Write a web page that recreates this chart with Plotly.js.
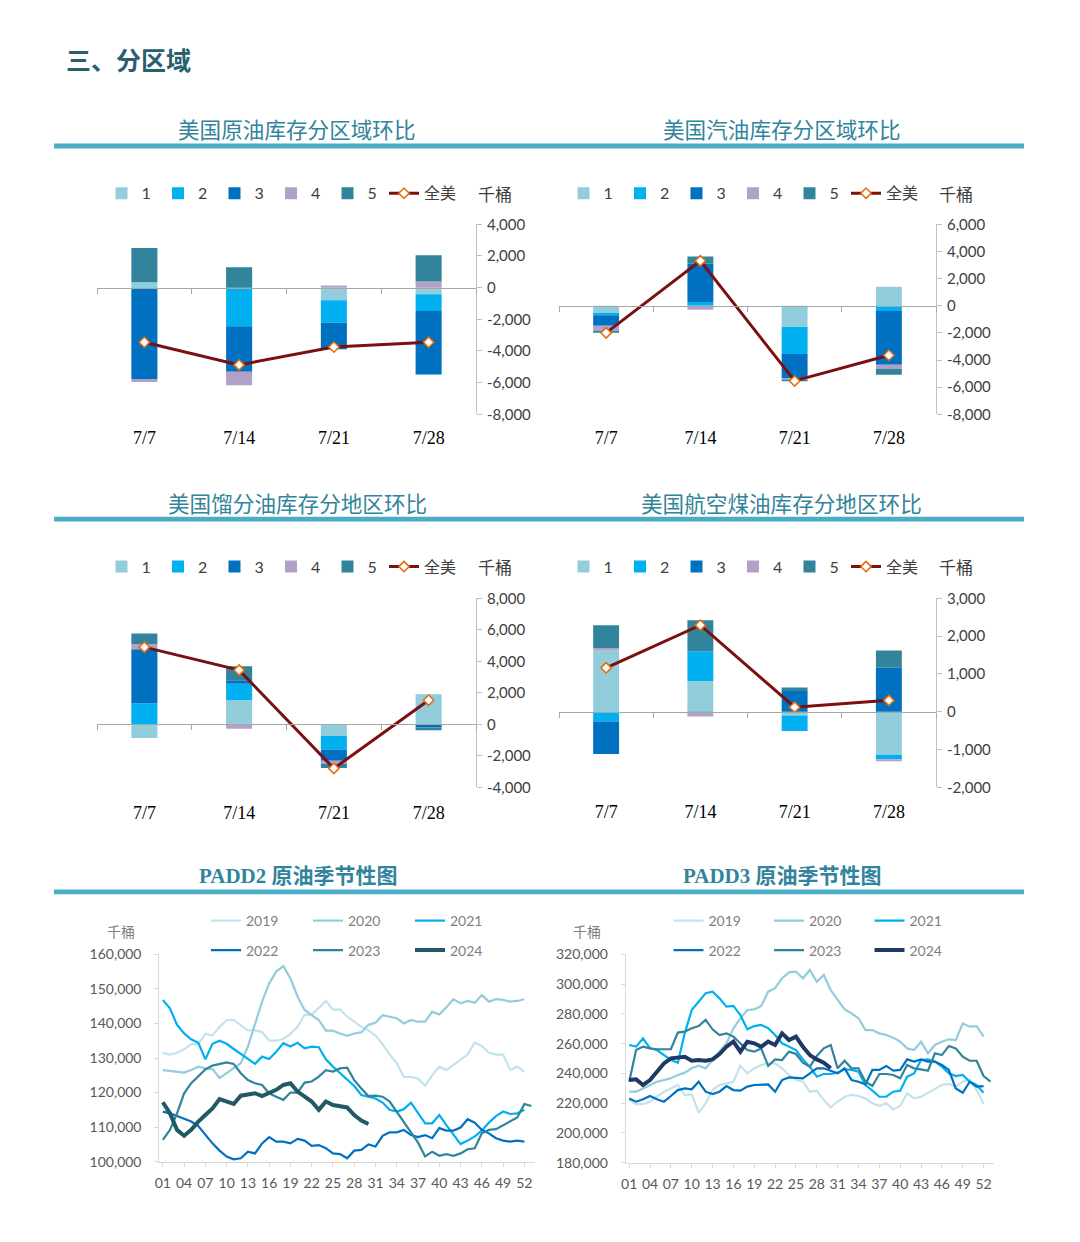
<!DOCTYPE html>
<html>
<head>
<meta charset="utf-8">
<script src="https://cdn.plot.ly/plotly-3.0.1.min.js"></script>
<style>
html,body{margin:0;padding:0;background:#ffffff;}
#chart{width:1080px;height:1242px;}
</style>
</head>
<body>
<div id="chart"></div>
<script>
// ---------------- DATA ----------------
const dates = ['7/7', '7/14', '7/21', '7/28'];
const regionNames = ['1', '2', '3', '4', '5'];
const totalName = '全美';
const unitLabel = '千桶';

// 美国原油库存分区域环比 (千桶)
const crudeR1 = [340, 0, -800, -420];
const crudeR2 = [-50, -2440, -1410, -1050];
const crudeR3 = [-5720, -2880, -1680, -4020];
const crudeR4 = [-190, -840, 130, 380];
const crudeR5 = [2170, 1280, 0, 1660];
const crudeTotal = [-3450, -4880, -3750, -3450];

// 美国汽油库存分区域环比
const gasR1 = [-540, 0, -1570, 1400];
const gasR2 = [-170, 270, -1990, -390];
const gasR3 = [-760, 2820, -1760, -3950];
const gasR4 = [-370, -290, -120, -320];
const gasR5 = [-150, 540, -120, -420];
const gasTotal = [-2000, 3310, -5540, -3650];

// 美国馏分油库存分地区环比
const distR1 = [-870, 1550, -740, 1910];
const distR2 = [1340, 1020, -870, 0];
const distR3 = [3420, 230, -700, -200];
const distR4 = [340, -280, -190, 0];
const distR5 = [660, 890, -280, -180];
const distTotal = [4900, 3440, -2800, 1530];

// 美国航空煤油库存分地区环比
const jetR1 = [1620, 810, -100, -1140];
const jetR2 = [-260, 790, -410, -120];
const jetR3 = [-860, -35, 550, 1160];
const jetR4 = [60, -90, 0, -50];
const jetR5 = [610, 820, 90, 460];
const jetTotal = [1160, 2290, 120, 300];

// bar-chart y tick values / labels
const crudeTickVals = [4000, 2000, 0, -2000, -4000, -6000, -8000];
const crudeTickText = ['4,000', '2,000', '0', '-2,000', '-4,000', '-6,000', '-8,000'];
const gasTickVals = [6000, 4000, 2000, 0, -2000, -4000, -6000, -8000];
const gasTickText = ['6,000', '4,000', '2,000', '0', '-2,000', '-4,000', '-6,000', '-8,000'];
const distTickVals = [8000, 6000, 4000, 2000, 0, -2000, -4000];
const distTickText = ['8,000', '6,000', '4,000', '2,000', '0', '-2,000', '-4,000'];
const jetTickVals = [3000, 2000, 1000, 0, -1000, -2000];
const jetTickText = ['3,000', '2,000', '1,000', '0', '-1,000', '-2,000'];

// seasonal charts: weeks and tick labels
const weeks = [1,2,3,4,5,6,7,8,9,10,11,12,13,14,15,16,17,18,19,20,21,22,23,24,25,26,27,28,29,30,31,32,33,34,35,36,37,38,39,40,41,42,43,44,45,46,47,48,49,50,51,52,53];
const weekTickVals = [1,4,7,10,13,16,19,22,25,28,31,34,37,40,43,46,49,52];
const weekTickText = ['01','04','07','10','13','16','19','22','25','28','31','34','37','40','43','46','49','52'];
const yearNames = ['2019', '2020', '2021', '2022', '2023', '2024'];

// PADD2 原油 (千桶)
const p2y2019 = [131500,131000,131500,132500,134000,134000,137000,136500,139000,141000,141000,139500,138000,138000,137500,135000,135000,135500,137000,139000,142500,142500,144500,146500,144000,144000,142000,140500,139000,138000,136500,134000,131000,128500,124500,124500,124000,122000,125000,127500,126500,128000,129500,131000,134500,133500,131500,131000,131000,126500,127500,126000];
const p2y2020 = [126500,126300,126000,125800,126500,127500,127000,126800,124200,125600,127000,128500,133300,140000,146300,151600,155000,156600,153000,147800,143900,142400,141000,137900,137900,137100,136400,137100,137400,139600,140200,142400,142000,141500,140000,141000,140500,140500,143400,142600,144700,147000,145800,146500,146000,148200,146300,147000,146800,146300,146500,147000];
const p2y2021 = [146800,144400,139600,137100,135400,134400,129600,134100,135000,134100,132600,131200,129600,128300,130400,129700,131800,134300,133300,134400,132800,133300,133100,129600,127500,125600,123600,121900,119300,118800,118300,117100,115000,114500,115200,117100,114000,111100,111100,113500,110600,107700,105100,106100,107300,109000,111300,113200,114500,113800,114000,115000];
const p2y2022 = [114500,114000,113200,112400,111600,110300,107700,105300,103200,101500,100700,101000,102900,102400,105300,107100,105800,105800,105300,106600,106100,104600,104800,103900,102400,102200,101000,103200,103400,105000,104400,107500,108500,108500,109200,107700,107100,107700,106800,109700,109000,109000,109900,112300,111300,109200,108200,106800,106100,105800,106100,105800];
const p2y2023 = [106300,109200,114000,119800,122700,124600,126700,127800,128200,128700,128300,125600,123600,122700,122200,119800,118800,117900,120000,120000,122900,123200,124600,126500,126100,127000,127200,123600,121200,119000,119100,118800,117400,114500,111600,108700,105500,101500,102900,101700,102200,101700,102400,103600,103900,108200,109200,109400,110600,111600,112800,116700,116100];
const p2y2024 = [117200,114000,109200,107500,109200,111600,113500,115400,118100,117400,116700,119100,119400,119800,119000,119800,120800,122200,122700,120300,118800,117400,115000,117400,116400,116100,115700,113500,111900,110900];

// PADD3 原油 (千桶)
const p3y2019 = [222100,219400,219400,221000,224300,227700,229900,232200,225500,225900,213600,219900,228800,232200,233300,234400,245200,240000,243400,245600,246700,246700,243400,238900,235500,234400,227700,228400,222100,217200,221000,224300,225500,224800,223200,219900,218100,219900,215800,218100,226600,223200,224300,227000,229900,232200,232900,231100,234400,236000,228800,219400];
const p3y2020 = [227700,227700,229900,232200,234400,235500,236700,238900,240500,243400,245200,243400,249000,254600,260200,270300,277000,282600,283000,285300,294900,297200,303900,307900,308400,303900,309500,301600,306100,296000,289300,283000,280300,277000,269100,269100,266900,265800,264000,261300,256800,255700,261300,253500,259100,261300,262900,262400,273600,271400,271800,264700];
const p3y2021 = [259100,258000,263600,256800,255700,252300,249000,247200,266900,282600,288200,293800,294900,290400,284800,285300,279200,269600,271800,272500,270300,265800,260200,258000,255700,249400,244500,237800,239600,239600,240500,242700,242300,241100,232200,228400,224300,224300,227700,228400,237800,240000,249000,249400,247900,244500,240000,238200,238900,234400,232200,227000];
const p3y2022 = [223200,221000,222600,224800,222600,221000,224800,228800,229900,229300,234400,227700,226100,227700,231500,228800,228400,231100,232200,232200,232600,227700,235500,237300,237100,236700,240000,243400,243400,241800,240000,243400,235500,234400,232600,242300,242300,245000,241800,242300,249400,247900,249400,247900,247900,245600,242300,229900,227000,234400,231100,231500];
const p3y2023 = [234400,255700,258000,256800,256200,256200,256200,267400,268000,270300,271800,275900,269600,265800,266900,264700,260200,255700,254600,256800,245000,249400,249000,254600,253000,247200,244500,251700,256800,259100,243400,248500,243400,243400,234400,231500,239600,239600,238900,236700,245600,243400,242700,241800,253500,252300,258400,256800,251200,248500,248500,238200,234400];
const p3y2024 = [235500,236000,232200,235500,241100,246700,250100,250800,251200,248500,249000,248500,249400,253000,257900,261300,254600,261300,260200,257900,261300,259100,266900,262400,264700,257900,252300,249400,247200,243400];

// ---------------- STYLE / LAYOUT HELPERS ----------------
const W = 1080, H = 1242;
const fx = v => v / W;
const fy = v => 1 - v / H;

const regionColors = ['#92CDDC', '#00B0F0', '#0070C0', '#B2A1C7', '#31849B'];
const totalColor = '#7B1010';
const yearColorsP2 = ['#C2E3EC', '#92CDDC', '#00B0F0', '#0070C0', '#31849B', '#215967'];
const yearColorsP3 = ['#C2E3EC', '#92CDDC', '#00B0F0', '#0070C0', '#31849B', '#1F3864'];

const cjk = '"Noto Sans CJK SC", sans-serif';
const sansNum = 'Lato, "Noto Sans CJK SC", sans-serif';

// panel geometry (page pixels)
const barPanels = [
  {left: 97,  right: 476, top: 224.3, bottom: 414.3, lo: -8000, hi: 4000, labelY: 441, legX: 101.5, legY: 193.3, unitX: 494.5,
   regions: [crudeR1, crudeR2, crudeR3, crudeR4, crudeR5], total: crudeTotal, tv: crudeTickVals, tt: crudeTickText},
  {left: 559, right: 936, top: 224.3, bottom: 414.3, lo: -8000, hi: 6000, labelY: 441, legX: 563.5, legY: 193.3, unitX: 956,
   regions: [gasR1, gasR2, gasR3, gasR4, gasR5], total: gasTotal, tv: gasTickVals, tt: gasTickText},
  {left: 97,  right: 476, top: 598.3, bottom: 787.3, lo: -4000, hi: 8000, labelY: 815, legX: 101.5, legY: 566.7, unitX: 494.5,
   regions: [distR1, distR2, distR3, distR4, distR5], total: distTotal, tv: distTickVals, tt: distTickText},
  {left: 559, right: 936, top: 598.3, bottom: 787.3, lo: -2000, hi: 3000, labelY: 815, legX: 563.5, legY: 566.7, unitX: 956,
   regions: [jetR1, jetR2, jetR3, jetR4, jetR5], total: jetTotal, tv: jetTickVals, tt: jetTickText}
];

const traces = [];
const layout = {
  width: W, height: H,
  margin: {l: 0, r: 0, t: 0, b: 0, pad: 0},
  paper_bgcolor: '#ffffff',
  plot_bgcolor: 'rgba(0,0,0,0)',
  barmode: 'relative',
  bargap: 0.725,
  showlegend: true,
  hovermode: false,
  annotations: [],
  shapes: []
};

barPanels.forEach((p, i) => {
  const n = i + 1;
  const xa = 'x' + n, ya = 'y' + n;
  const legId = n === 1 ? 'legend' : 'legend' + n;
  p.regions.forEach((vals, r) => {
    traces.push({
      type: 'bar', x: dates, y: vals, name: regionNames[r],
      xaxis: xa, yaxis: ya, legend: legId,
      marker: {color: regionColors[r], line: {width: 0}},
      legendwidth: 11.5
    });
  });
  traces.push({
    type: 'scatter', mode: 'lines+markers', x: dates, y: p.total, name: totalName,
    xaxis: xa, yaxis: ya, legend: legId,
    line: {color: totalColor, width: 3},
    marker: {symbol: 'diamond', size: 8, color: '#ffffff', line: {color: '#E46C0A', width: 1.5}},
    legendwidth: 40
  });
  const d0 = fy(p.bottom), d1 = fy(p.top);
  const zeroFrac = d0 + (0 - p.lo) / (p.hi - p.lo) * (d1 - d0);
  const zeroPx = p.top + (p.hi - 0) / (p.hi - p.lo) * (p.bottom - p.top);
  layout['xaxis' + n] = {
    domain: [fx(p.left), fx(p.right)], anchor: 'free', position: zeroFrac,
    type: 'category', range: [-0.5, 3.5],
    showline: true, linecolor: '#A6A6A6', linewidth: 1,
    ticks: 'outside', tickson: 'boundaries', ticklen: 5, tickcolor: '#A6A6A6', tickwidth: 1,
    tickfont: {family: '"Liberation Serif", "Times New Roman", serif', size: 18, color: '#000000'},
    ticklabelstandoff: Math.round(p.labelY - zeroPx - 19),
    showgrid: false, zeroline: false, fixedrange: true
  };
  layout['yaxis' + n] = {
    domain: [d0, d1], anchor: xa, side: 'right', range: [p.lo, p.hi],
    tickmode: 'array', tickvals: p.tv, ticktext: p.tt,
    showline: true, linecolor: '#BFBFBF', linewidth: 1,
    ticks: 'outside', ticklen: 5, tickcolor: '#BFBFBF',
    tickfont: {family: sansNum, size: 15, color: '#404040'},
    ticklabelstandoff: 2,
    showgrid: false, zeroline: false, fixedrange: true
  };
  layout[legId] = {
    x: fx(p.legX), y: fy(p.legY), xanchor: 'left', yanchor: 'middle',
    orientation: 'h', entrywidth: 11.5, entrywidthmode: 'pixels',
    font: {family: sansNum, size: 16, color: '#404040'},
    bgcolor: 'rgba(0,0,0,0)', borderwidth: 0, traceorder: 'normal'
  };
  layout.annotations.push({
    xref: 'paper', yref: 'paper', x: fx(p.unitX), y: fy(p.legY), xanchor: 'center', yanchor: 'middle',
    text: unitLabel, showarrow: false, font: {family: cjk, size: 17, color: '#404040'}
  });
});

// seasonal panels
const seasonPanels = [
  {n: 5, left: 159.3, right: 535, top: 954.3, bottom: 1161.7, lo: 100000, hi: 160000, dtick: 10000,
   series: [p2y2019, p2y2020, p2y2021, p2y2022, p2y2023, p2y2024], colors: yearColorsP2,
   legX: 206, legY1: 921, legY2: 950.5, ew: 57, unitX: 121, legA: 'legend5', legB: 'legend6'},
  {n: 6, left: 625.7, right: 994, top: 954.3, bottom: 1162.7, lo: 180000, hi: 320000, dtick: 20000,
   series: [p3y2019, p3y2020, p3y2021, p3y2022, p3y2023, p3y2024], colors: yearColorsP3,
   legX: 668.5, legY1: 921, legY2: 950.5, ew: 55.5, unitX: 587, legA: 'legend7', legB: 'legend8'}
];

seasonPanels.forEach(p => {
  const xa = 'x' + p.n, ya = 'y' + p.n;
  p.series.forEach((vals, k) => {
    traces.push({
      type: 'scatter', mode: 'lines', x: weeks.slice(0, vals.length), y: vals, name: yearNames[k],
      xaxis: xa, yaxis: ya, legend: k < 3 ? p.legA : p.legB,
      line: {color: p.colors[k], width: k === 5 ? 4 : 2.2},
      legendwidth: p.ew
    });
  });
  layout['xaxis' + p.n] = {
    domain: [fx(p.left), fx(p.right)], anchor: ya, range: [0.5, 53.5],
    tickmode: 'array', tickvals: weekTickVals, ticktext: weekTickText,
    showline: true, linecolor: '#D9D9D9', linewidth: 1,
    ticks: 'outside', ticklen: 4, tickcolor: '#D9D9D9',
    tickfont: {family: sansNum, size: 14, color: '#595959'},
    ticklabelstandoff: 4,
    showgrid: false, zeroline: false, fixedrange: true
  };
  layout['yaxis' + p.n] = {
    domain: [fy(p.bottom), fy(p.top)], anchor: xa, range: [p.lo, p.hi], dtick: p.dtick,
    tickformat: ',d',
    showline: true, linecolor: '#D9D9D9', linewidth: 1,
    ticks: 'outside', ticklen: 4, tickcolor: '#D9D9D9',
    tickfont: {family: sansNum, size: 14, color: '#595959'},
    ticklabelstandoff: 10,
    showgrid: false, zeroline: false, fixedrange: true
  };
  [[p.legA, p.legY1], [p.legB, p.legY2]].forEach(([id, yy]) => {
    layout[id] = {
      x: fx(p.legX), y: fy(yy), xanchor: 'left', yanchor: 'middle',
      orientation: 'h', entrywidth: p.ew, entrywidthmode: 'pixels',
      font: {family: sansNum, size: 14, color: '#7F7F7F'},
      bgcolor: 'rgba(0,0,0,0)', borderwidth: 0, traceorder: 'normal'
    };
  });
  layout.annotations.push({
    xref: 'paper', yref: 'paper', x: fx(p.unitX), y: fy(931), xanchor: 'center', yanchor: 'middle',
    text: unitLabel, showarrow: false, font: {family: cjk, size: 14, color: '#7F7F7F'}
  });
});

// header and section titles
layout.annotations.push({
  xref: 'paper', yref: 'paper', x: fx(64), y: fy(59), xanchor: 'left', yanchor: 'middle',
  text: '三、分区域', showarrow: false,
  font: {family: cjk, size: 25, color: '#2A5F6F', weight: 600}
});
const sectionTitles = [
  {text: '美国原油库存分区域环比', x: 297, y: 128.5, serif: false},
  {text: '美国汽油库存分区域环比', x: 782, y: 128.5, serif: false},
  {text: '美国馏分油库存分地区环比', x: 297.5, y: 502.5, serif: false},
  {text: '美国航空煤油库存分地区环比', x: 781.5, y: 502.5, serif: false},
  {text: 'PADD2 原油季节性图', x: 298, y: 875.5, serif: true},
  {text: 'PADD3 原油季节性图', x: 782, y: 875.5, serif: true}
];
sectionTitles.forEach(t => {
  layout.annotations.push({
    xref: 'paper', yref: 'paper', x: fx(t.x), y: fy(t.y), xanchor: 'center', yanchor: 'middle',
    text: t.text, showarrow: false,
    font: t.serif
      ? {family: '"Liberation Serif", "Noto Sans CJK SC", serif', size: 21, color: '#31849B', weight: 'bold'}
      : {family: cjk, size: 21.6, color: '#31849B'}
  });
});
[[143.5, 148.5], [516.7, 521.5], [889.5, 894.3]].forEach(([a, b]) => {
  layout.shapes.push({
    type: 'rect', xref: 'paper', yref: 'paper', x0: fx(54), x1: fx(1024), y0: fy(b), y1: fy(a),
    fillcolor: '#4BACC6', line: {width: 0}, layer: 'below'
  });
});

Plotly.newPlot('chart', traces, layout, {displayModeBar: false, staticPlot: true});
</script>
</body>
</html>
